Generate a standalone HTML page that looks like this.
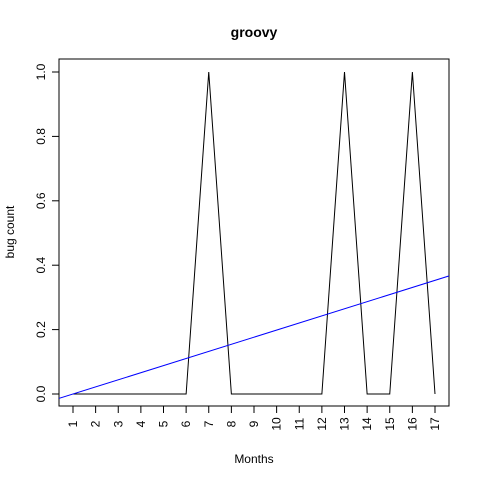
<!DOCTYPE html>
<html><head><meta charset="utf-8"><style>body{margin:0;background:#fff}svg{font-family:"Liberation Sans",Arial,sans-serif}</style></head>
<body>
<svg id="c" width="480" height="480" xmlns="http://www.w3.org/2000/svg">
<defs><clipPath id="clip"><rect x="59" y="59" width="390" height="347"/></clipPath></defs>
<text x="254" y="37" text-anchor="middle" font-size="14" font-weight="bold">groovy</text>
<text x="254" y="463" text-anchor="middle" font-size="12">Months</text>
<text transform="translate(14,232) rotate(-90)" text-anchor="middle" font-size="12">bug count</text>
<rect x="59" y="59" width="390" height="347" fill="none" stroke="#000"/>
<g id="axes"></g>
<g id="marks" clip-path="url(#clip)"></g>
</svg>
<script>
const months=[1,2,3,4,5,6,7,8,9,10,11,12,13,14,15,16,17];
const bugs=[0,0,0,0,0,0,1,0,0,0,0,0,1,0,0,1,0];
const yTicks=[0,0.2,0.4,0.6,0.8,1.0];
const yTickLabels=["0.0","0.2","0.4","0.6","0.8","1.0"];
const NS="http://www.w3.org/2000/svg";
const xs=v=>73+(v-1)*(435-73)/16;
const ys=v=>394-v*(394-72);
function mk(t,a,p){const e=document.createElementNS(NS,t);for(const k in a)e.setAttribute(k,a[k]);p.appendChild(e);return e;}
const ax=document.getElementById('axes'),mg=document.getElementById('marks');
months.forEach(m=>{
 const l=mk('line',{x1:xs(m),x2:xs(m),y1:406,y2:413,stroke:'#000'},ax);
 
 
 const t=mk('text',{transform:`translate(${xs(m)+4},424) rotate(-90)`,'text-anchor':'middle','font-size':'12'},ax);
 t.textContent=m;
 
 
});
yTicks.forEach((v,i)=>{
 const l=mk('line',{x1:52,x2:59,y1:ys(v),y2:ys(v),stroke:'#000'},ax);
 
 
 const t=mk('text',{transform:`translate(45,${ys(v)}) rotate(-90)`,'text-anchor':'middle','font-size':'12'},ax);
 t.textContent=yTickLabels[i];
 
 
});
const p=mk('polyline',{points:months.map((m,i)=>xs(m)+','+ys(bugs[i])).join(' '),fill:'none',stroke:'#000'},mg);


const n=months.length,mx=months.reduce((a,b)=>a+b)/n,my=bugs.reduce((a,b)=>a+b)/n;
let sxy=0,sxx=0;months.forEach((m,i)=>{sxy+=(m-mx)*(bugs[i]-my);sxx+=(m-mx)**2;});
const b=sxy/sxx,a=my-b*mx;
const r=mk('line',{x1:xs(-5),y1:ys(a+b*-5),x2:xs(25),y2:ys(a+b*25),stroke:'#0000ff'},mg);


</script>
</body></html>
